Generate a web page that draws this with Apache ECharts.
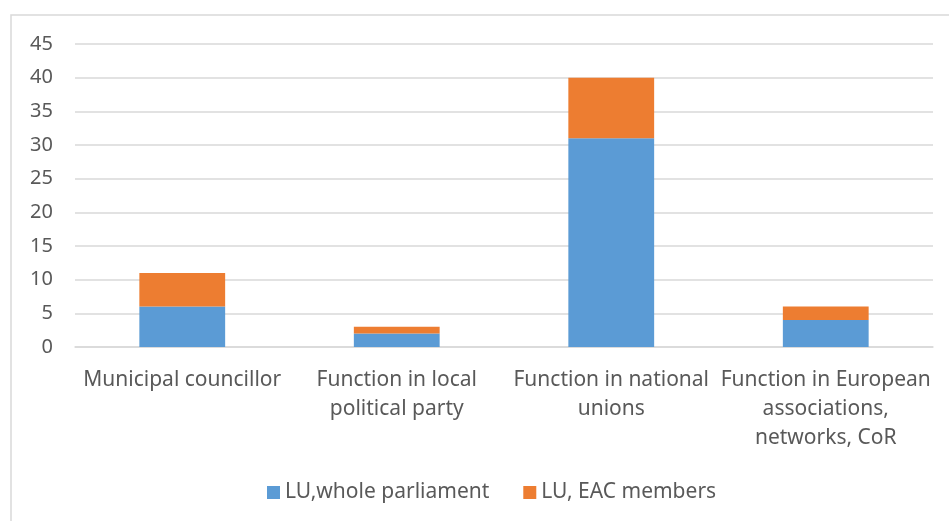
<!DOCTYPE html>
<html>
<head>
<meta charset="utf-8">
<script src="https://cdn.jsdelivr.net/npm/echarts@6/dist/echarts.min.js"></script>
<style>html,body{margin:0;padding:0;background:#fff;}#c{width:949px;height:521px;}</style>
</head>
<body>
<div id="c"></div>
<script>
const categories = [
  "Municipal councillor",
  "Function in local political party",
  "Function in national unions",
  "Function in European associations, networks, CoR"
];
const tickLabels = [
  "Municipal councillor",
  "Function in local\npolitical party",
  "Function in national\nunions",
  "Function in European\nassociations,\nnetworks, CoR"
];
const seriesNames = ["LU,whole parliament", "LU, EAC members"];
const wholeParliament = [6, 2, 31, 4];
const eacMembers = [5, 1, 9, 2];
const yTicks = [0, 5, 10, 15, 20, 25, 30, 35, 40, 45];

const FONT = "Noto Sans";
const TXT = "#595959";
const chart = echarts.init(document.getElementById('c'), null, {renderer: 'canvas'});
chart.setOption({
  animation: false,
  textStyle: {fontFamily: FONT},
  graphic: [{
    type: 'rect', shape: {x: 11, y: 15, width: 960, height: 540},
    style: {fill: 'none', stroke: '#d9d9d9', lineWidth: 1.5}, silent: true, z: -1
  }],
  grid: {left: 75, right: 16, top: 44, bottom: 174, containLabel: false},
  legend: {
    data: seriesNames, top: 477, left: 262, itemWidth: 13, itemHeight: 13, itemGap: 34,
    icon: 'rect',
    textStyle: {color: TXT, fontSize: 21, fontFamily: FONT}
  },
  xAxis: {
    type: 'category', data: categories,
    axisLine: {lineStyle: {color: '#d9d9d9', width: 1.5}},
    axisTick: {show: false},
    axisLabel: {
      color: TXT, fontSize: 21, fontFamily: FONT, margin: 19, lineHeight: 29, interval: 0,
      formatter: function (v, i) { return tickLabels[i]; }
    }
  },
  yAxis: {
    type: 'value', min: yTicks[0], max: yTicks[yTicks.length - 1], interval: 5,
    axisLine: {show: false}, axisTick: {show: false},
    splitLine: {lineStyle: {color: '#d9d9d9', width: 1.5}},
    axisLabel: {color: TXT, fontSize: 20, fontFamily: FONT, margin: 22}
  },
  series: [
    {name: seriesNames[0], type: 'bar', stack: 's', data: wholeParliament, barWidth: '40%',
     itemStyle: {color: '#5b9bd5'}},
    {name: seriesNames[1], type: 'bar', stack: 's', data: eacMembers, barWidth: '40%',
     itemStyle: {color: '#ed7d31'}}
  ]
});
</script>
</body>
</html>
